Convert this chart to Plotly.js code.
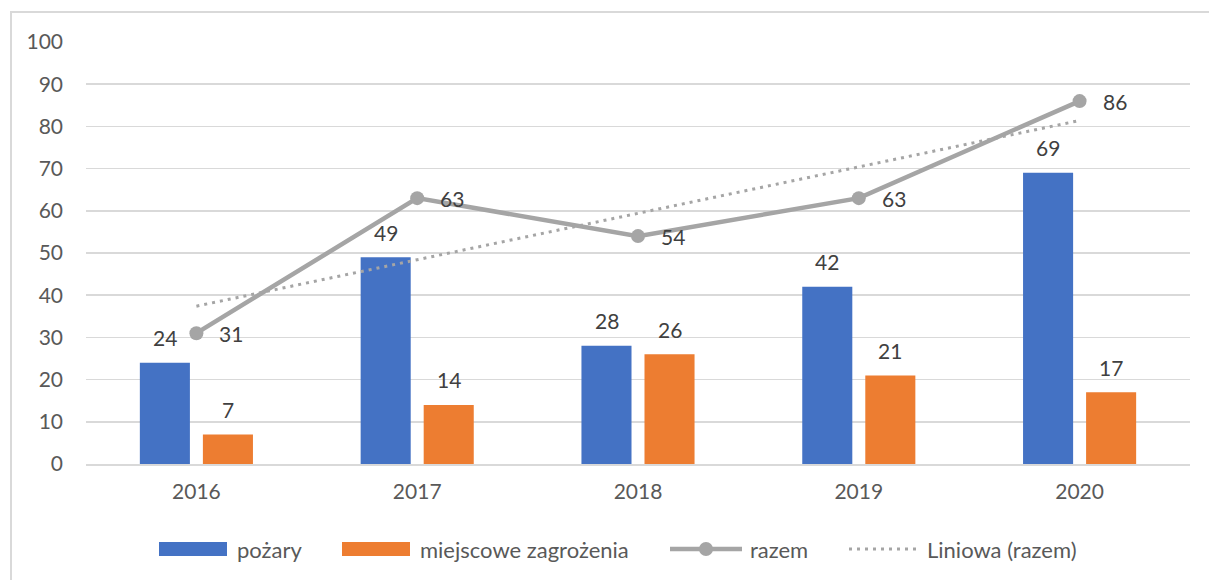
<!DOCTYPE html>
<html>
<head>
<meta charset="utf-8">
<script src="https://cdn.plot.ly/plotly-3.0.1.min.js"></script>
<style>
  html, body { margin: 0; padding: 0; background: #fff; overflow: hidden; }
  #chart { width: 1209px; height: 580px; }
  #frame { position: absolute; left: 10px; top: 11px; width: 1400px; height: 800px;
           border-left: 2px solid #D9D9D9; border-top: 2px solid #D9D9D9; pointer-events: none; }
</style>
</head>
<body>
<div id="chart"></div>
<div id="frame"></div>
<script>
const years = ['2016', '2017', '2018', '2019', '2020'];
const pozary = [24, 49, 28, 42, 69];
const miejscowe = [7, 14, 26, 21, 17];
const razem = [31, 63, 54, 63, 86];
const trendRazem = [37.4, 48.4, 59.4, 70.4, 81.4];
const yTicks = [0, 10, 20, 30, 40, 50, 60, 70, 80, 90, 100];
const seriesNames = ['pożary', 'miejscowe zagrożenia', 'razem', 'Liniowa (razem)'];

const FONT = 'Lato, "Open Sans", sans-serif';
const BLUE = '#4472C4', ORANGE = '#ED7D31', GRAY = '#A5A5A5';

const traces = [
  { type: 'bar', name: seriesNames[0], x: years, y: pozary, marker: { color: BLUE } },
  { type: 'bar', name: seriesNames[1], x: years, y: miejscowe, marker: { color: ORANGE } },
  { type: 'scatter', mode: 'lines+markers', name: seriesNames[2], x: years, y: razem,
    line: { color: GRAY, width: 4.5 },
    marker: { color: GRAY, size: 14, symbol: 'circle' } },
  { type: 'scatter', mode: 'lines', name: seriesNames[3], x: years, y: trendRazem,
    line: { color: GRAY, width: 3, dash: '3px,5px' } }
];

const annotations = [];
const labelFont = { family: FONT, size: 21, color: '#404040' };
years.forEach((yr, i) => {
  annotations.push({ x: i, y: pozary[i], xref: 'x', yref: 'y', text: String(pozary[i]),
    showarrow: false, xshift: -31.5, yshift: 25, font: labelFont });
  annotations.push({ x: i, y: miejscowe[i], xref: 'x', yref: 'y', text: String(miejscowe[i]),
    showarrow: false, xshift: 31.5, yshift: 25, font: labelFont });
  annotations.push({ x: i, y: razem[i], xref: 'x', yref: 'y', text: String(razem[i]),
    showarrow: false, xshift: 35, yshift: 0, font: labelFont });
});

// custom legend (pixel layout converted to paper coordinates)
const M = { l: 86, r: 19, t: 42, b: 116 }, W = 1209, H = 580;
const pw = W - M.l - M.r, ph = H - M.t - M.b;
const px = v => (v - M.l) / pw;
const py = v => (H - M.b - v) / ph;
const LY = 549;
const shapes = [
  { type: 'rect', xref: 'paper', yref: 'paper', x0: px(159), x1: px(227), y0: py(542), y1: py(556),
    fillcolor: BLUE, line: { width: 0 } },
  { type: 'rect', xref: 'paper', yref: 'paper', x0: px(342), x1: px(410), y0: py(542), y1: py(556),
    fillcolor: ORANGE, line: { width: 0 } },
  { type: 'line', xref: 'paper', yref: 'paper', x0: px(670), x1: px(742), y0: py(LY), y1: py(LY),
    line: { color: GRAY, width: 4.5 } },
  { type: 'circle', xref: 'paper', yref: 'paper', x0: px(699), x1: px(713), y0: py(542), y1: py(556),
    fillcolor: GRAY, line: { width: 0 } },
  { type: 'line', xref: 'paper', yref: 'paper', x0: px(849), x1: px(918), y0: py(LY), y1: py(LY),
    line: { color: GRAY, width: 3, dash: '3px,5px' } }
];
const legendX = [235, 418, 748, 925];
const legendFont = { family: FONT, size: 22, color: '#595959' };
seriesNames.forEach((n, i) => {
  annotations.push({ xref: 'paper', yref: 'paper', x: px(legendX[i]), y: py(LY),
    xanchor: 'left', yanchor: 'middle', text: n, showarrow: false, font: legendFont });
});

const layout = {
  width: W, height: H,
  margin: M,
  paper_bgcolor: '#ffffff', plot_bgcolor: '#ffffff',
  font: { family: FONT, size: 21, color: '#595959' },
  barmode: 'group', bargap: 0.429, bargroupgap: 0.206,
  showlegend: false,
  xaxis: { type: 'category', range: [-0.5, 4.5], autorange: false, showgrid: false,
           showline: true, linecolor: '#D9D9D9',
           linewidth: 2, ticks: '', tickfont: { family: FONT, size: 21, color: '#595959' },
           ticklabelstandoff: 8 },
  yaxis: { range: [0, 100], tickvals: yTicks, showgrid: true, gridcolor: '#D9D9D9',
           gridwidth: 1.5, zeroline: false, showline: false, ticks: '',
           tickfont: { family: FONT, size: 21, color: '#595959' }, ticklabelstandoff: 22 },
  annotations: annotations,
  shapes: shapes
};

Plotly.newPlot('chart', traces, layout, { displayModeBar: false, staticPlot: true });
</script>
</body>
</html>
